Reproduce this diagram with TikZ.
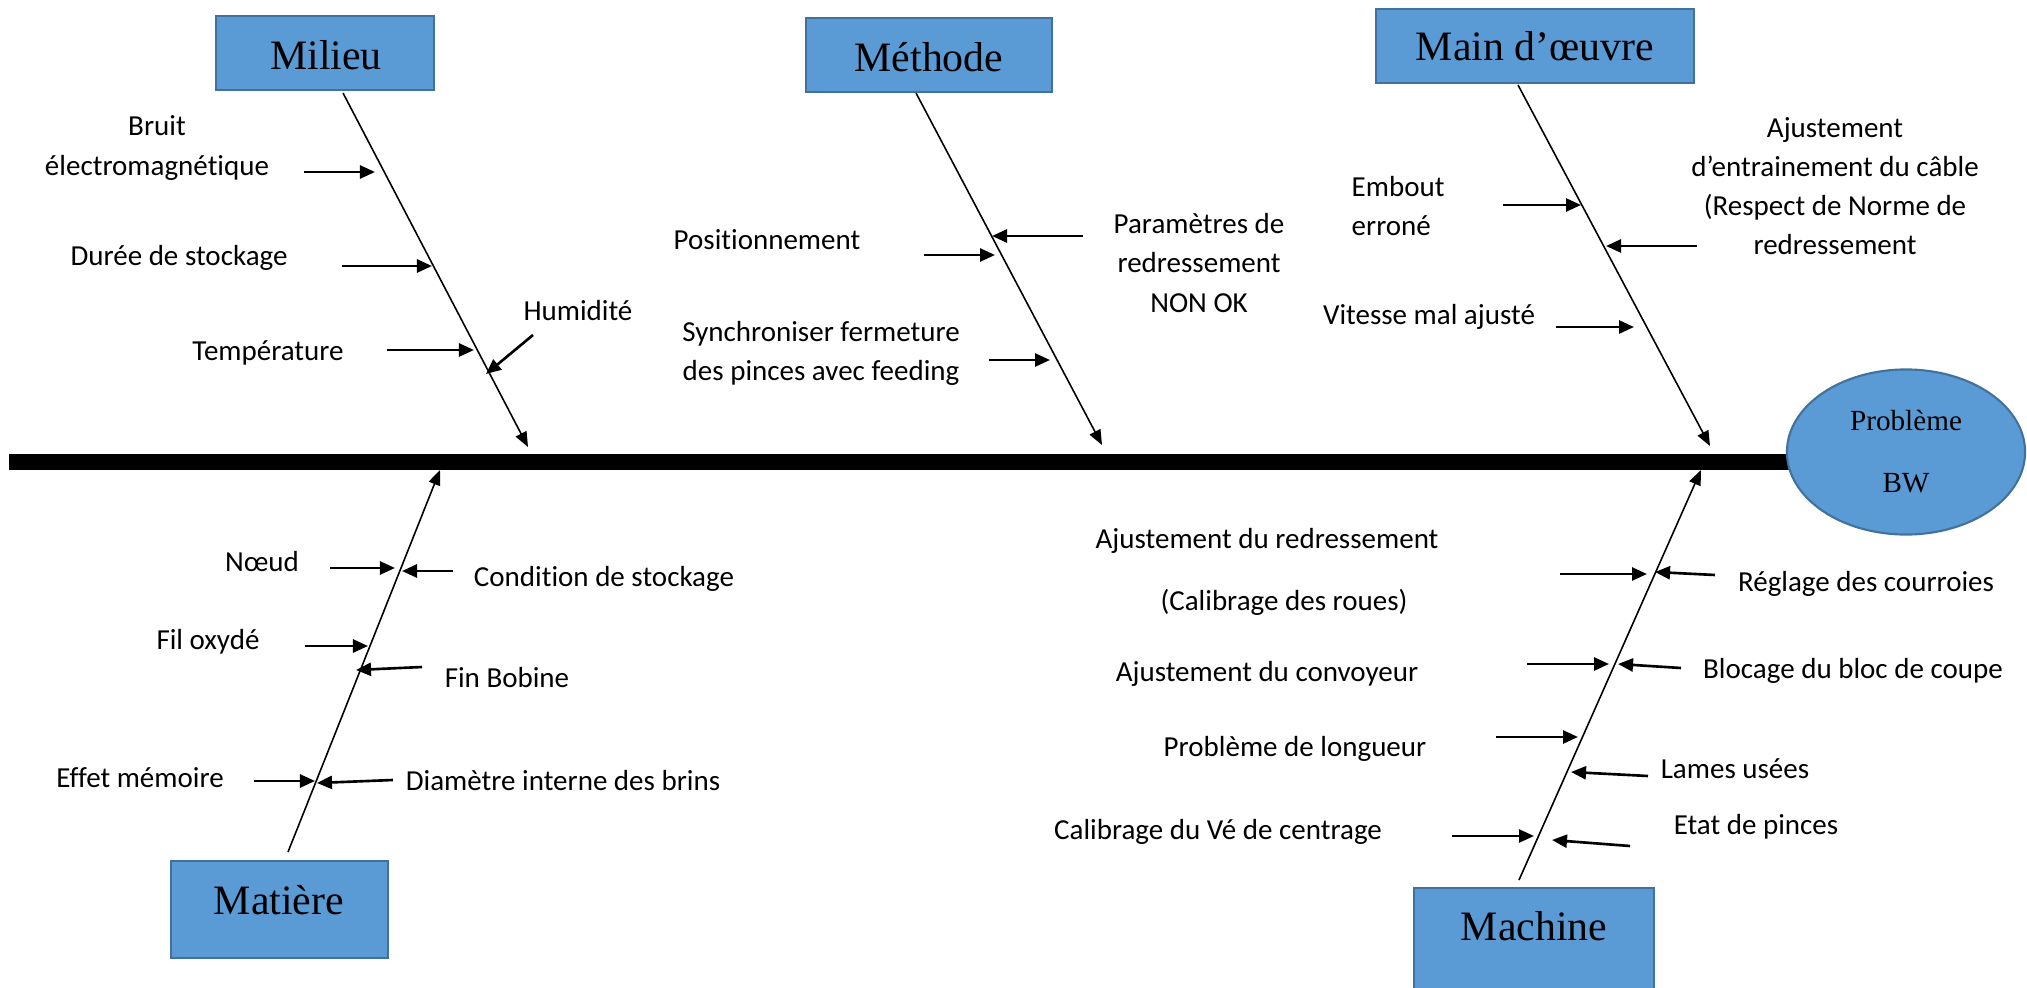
\documentclass[tikz,border=0pt]{standalone}
\usepackage{fontspec}
\setmainfont{Liberation Serif}
\newfontfamily\labfont[Ligatures=NoCommon]{Carlito}
\usetikzlibrary{arrows.meta,shapes.geometric}
\definecolor{boxblue}{HTML}{5B9BD5}
\definecolor{boxedge}{HTML}{41719C}
\begin{document}
\begin{tikzpicture}[x=0.01cm,y=-0.01cm,
  catbox/.style={draw=boxedge, fill=boxblue, line width=0.6pt, inner sep=0pt},
  cattext/.style={font=\fontsize{11.9}{14}\selectfont, inner sep=0pt},
  lab/.style={font=\labfont\fontsize{8.25}{11.1}\selectfont, align=center, inner sep=0pt},
  bone/.style={line width=0.45pt, -{Triangle[length=0.15cm,width=0.12cm]}},
  cause/.style={line width=0.75pt, -{Triangle[length=0.15cm,width=0.13cm]}},
]
\useasboundingbox (0,0) rectangle (2027,988);
\clip (0,0) rectangle (2027,988);

% spine and head
\coordinate (spineL) at (9,462);
\coordinate (probC) at (1906,452);
\draw[line width=0.15cm] (spineL) -- (probC |- spineL);
\node[ellipse, draw=boxedge, fill=boxblue, line width=0.6pt, minimum width=2.38cm, minimum height=1.65cm, inner sep=0pt,
      align=center, font=\fontsize{8.3}{17.6}\selectfont] (prob) at (probC) {Problème\\BW};

% category boxes
\node[catbox, minimum width=2.18cm, minimum height=0.74cm] (milieu) at (325,53) {};
\node[cattext] (milieuT) at (326,55) {Milieu};
\node[catbox, minimum width=2.46cm, minimum height=0.74cm] (methode) at (929,55) {};
\node[cattext] (methodeT) at (929,57) {Méthode};
\node[catbox, minimum width=3.18cm, minimum height=0.74cm] (main) at (1535,46) {};
\node[cattext] (mainT) at (1535,46) {Main d’œuvre};
\node[catbox, minimum width=2.17cm, minimum height=0.97cm] (matiere) at (279.5,909.5) {};
\node[cattext] (matiereT) at (279,900) {Matière};
\node[catbox, minimum width=2.40cm, minimum height=1.20cm] (machine) at (1534,948) {};
\node[cattext] (machineT) at (1534,926) {Machine};

% main bones
\coordinate (milieuS) at (343,93);   \coordinate (milieuE) at (528,447);
\coordinate (methodeS) at (916,93);  \coordinate (methodeE) at (1102,445);
\coordinate (mainS) at (1518,85);    \coordinate (mainE) at (1710,446);
\coordinate (matiereS) at (288,852); \coordinate (matiereE) at (440,470);
\coordinate (machineS) at (1519,880);\coordinate (machineE) at (1701,470);
\draw[bone] (milieuS) -- (milieuE);
\draw[bone] (methodeS) -- (methodeE);
\draw[bone] (mainS) -- (mainE);
\draw[bone] (matiereS) -- (matiereE);
\draw[bone] (machineS) -- (machineE);

% Milieu causes
\node[lab] (bruit) at (157,148) {Bruit\\électromagnétique};
\node[lab] (duree) at (179,258) {Durée de stockage};
\node[lab] (temp) at (268,353) {Température};
\node[lab] (humid) at (578,311) {Humidité};
\coordinate (a1s) at (304,172); \coordinate (a1e) at (375,172);
\coordinate (a2s) at (342,266); \coordinate (a2e) at (432,266);
\coordinate (a3s) at (387,350); \coordinate (a3e) at (474,350);
\coordinate (a4s) at (533,335); \coordinate (a4e) at (486,374);
\draw[cause] (a1s) -- (a1e);
\draw[cause] (a2s) -- (a2e);
\draw[cause] (a3s) -- (a3e);
\draw[cause] (a4s) -- (a4e);

% Methode causes
\node[lab] (posit) at (767,240) {Positionnement};
\node[lab] (param) at (1199,263) {Paramètres de\\redressement\\NON OK};
\node[lab] (synch) at (821,353) {Synchroniser fermeture\\des pinces avec feeding};
\coordinate (b1s) at (924,255);  \coordinate (b1e) at (995,255);
\coordinate (b2s) at (1083,236); \coordinate (b2e) at (992,236);
\coordinate (b3s) at (989,360);  \coordinate (b3e) at (1050,360);
\draw[cause] (b1s) -- (b1e);
\draw[cause] (b2s) -- (b2e);
\draw[cause] (b3s) -- (b3e);

% Main d'oeuvre causes
\node[lab, anchor=west, align=left] (embout) at (1351,206) {Embout\\erroné};
\node[lab] (ajust) at (1835,186) {Ajustement\\d’entrainement du câble\\(Respect de Norme de\\redressement};
\node[lab] (vitesse) at (1429,317) {Vitesse mal ajusté};
\coordinate (c1s) at (1503,205); \coordinate (c1e) at (1581,205);
\coordinate (c2s) at (1697,246); \coordinate (c2e) at (1606,246);
\coordinate (c3s) at (1556,327); \coordinate (c3e) at (1634,327);
\draw[cause] (c1s) -- (c1e);
\draw[cause] (c2s) -- (c2e);
\draw[cause] (c3s) -- (c3e);

% Matiere causes
\node[lab] (noeud) at (262,562) {Nœud};
\node[lab] (cond) at (604,579) {Condition de stockage};
\node[lab] (fil) at (208,642) {Fil oxydé};
\node[lab] (fin) at (507,678) {Fin Bobine};
\node[lab] (effet) at (140,778) {Effet mémoire};
\node[lab] (diam) at (563,781) {Diamètre interne des brins};
\coordinate (d1s) at (330,568); \coordinate (d1e) at (395,568);
\coordinate (d2s) at (453,571); \coordinate (d2e) at (402,571);
\coordinate (d3s) at (305,646); \coordinate (d3e) at (368,646);
\coordinate (d4s) at (422,667); \coordinate (d4e) at (356,670);
\coordinate (d5s) at (254,781); \coordinate (d5e) at (315,781);
\coordinate (d6s) at (393,780); \coordinate (d6e) at (317,783);
\draw[cause] (d1s) -- (d1e);
\draw[cause] (d2s) -- (d2e);
\draw[cause] (d3s) -- (d3e);
\draw[cause] (d4s) -- (d4e);
\draw[cause] (d5s) -- (d5e);
\draw[cause] (d6s) -- (d6e);

% Machine causes
\node[lab] (ajred) at (1267,541) {Ajustement du redressement};
\node[lab] (calib) at (1284,602) {(Calibrage des roues)};
\node[lab] (regl) at (1866,584) {Réglage des courroies};
\node[lab] (ajconv) at (1267,674) {Ajustement du convoyeur};
\node[lab] (bloc) at (1853,671) {Blocage du bloc de coupe};
\node[lab] (longu) at (1295,749) {Problème de longueur};
\node[lab] (lames) at (1735,769) {Lames usées};
\node[lab] (vecent) at (1218,832) {Calibrage du Vé de centrage};
\node[lab] (etat) at (1756,827) {Etat de pinces};
\coordinate (e1s) at (1560,574); \coordinate (e1e) at (1647,574);
\coordinate (e2s) at (1715,575); \coordinate (e2e) at (1655,572);
\coordinate (e3s) at (1527,664); \coordinate (e3e) at (1609,664);
\coordinate (e4s) at (1681,668); \coordinate (e4e) at (1618,664);
\coordinate (e5s) at (1496,737); \coordinate (e5e) at (1578,737);
\coordinate (e6s) at (1648,776); \coordinate (e6e) at (1571,772);
\coordinate (e7s) at (1452,836); \coordinate (e7e) at (1534,836);
\coordinate (e8s) at (1630,846); \coordinate (e8e) at (1552,840);
\draw[cause] (e1s) -- (e1e);
\draw[cause] (e2s) -- (e2e);
\draw[cause] (e3s) -- (e3e);
\draw[cause] (e4s) -- (e4e);
\draw[cause] (e5s) -- (e5e);
\draw[cause] (e6s) -- (e6e);
\draw[cause] (e7s) -- (e7e);
\draw[cause] (e8s) -- (e8e);
\end{tikzpicture}
\end{document}
